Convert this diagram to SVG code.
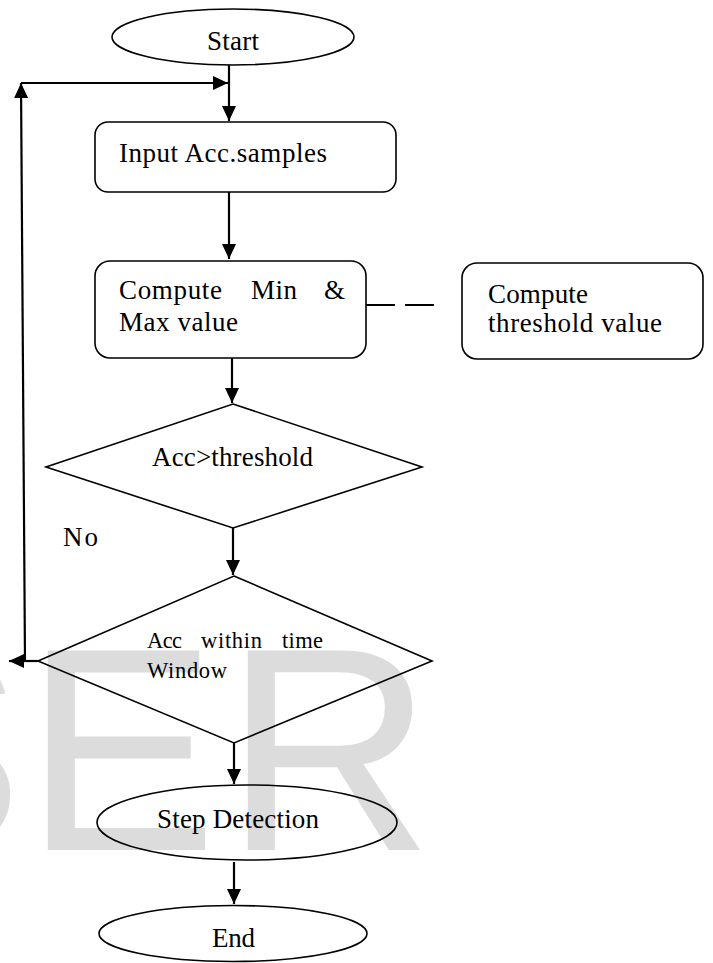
<svg xmlns="http://www.w3.org/2000/svg" width="713" height="963" viewBox="0 0 713 963">
<style>
.shape{fill:none;stroke:#000;stroke-width:1.6}
.conn{fill:none;stroke:#000;stroke-width:2.2}
.t{font-family:"Liberation Serif","Times New Roman",serif;font-size:27px;fill:#000}
.ts{font-size:22.5px}
.wm{font-family:"Liberation Sans",Arial,sans-serif;font-size:290px;fill:#dcdcdc}
</style>
<defs>
<marker id="ah" viewBox="0 0 15 14" refX="15" refY="7" markerWidth="15" markerHeight="14" markerUnits="userSpaceOnUse" orient="auto">
<path d="M0,0 L15,7 L0,14 z" fill="#000"/>
</marker>
</defs>
<rect x="0" y="0" width="713" height="963" fill="#fff"/>
<text class="wm" x="-170 24 224" y="850">SER</text>
<g id="connectors">
<path class="conn" d="M229,65 L229,121" marker-end="url(#ah)"/>
<path class="conn" d="M21,83 L228,83" marker-end="url(#ah)"/>
<path class="conn" d="M25,661 L21,83" marker-end="url(#ah)"/>
<path class="conn" d="M38,661 L9,661" marker-end="url(#ah)"/>
<path class="conn" d="M229,192 L229,259" marker-end="url(#ah)"/>
<path class="conn" d="M232,358 L232,403" marker-end="url(#ah)"/>
<path class="conn" d="M233,528 L233,575" marker-end="url(#ah)"/>
<path class="conn" d="M234,743 L234,784" marker-end="url(#ah)"/>
<path class="conn" d="M234,862 L234,904" marker-end="url(#ah)"/>
<path class="conn" d="M366,305 L435,305" stroke-dasharray="29 10" stroke-width="1.6"/>
</g>
<g id="start">
<ellipse class="shape" cx="233" cy="37" rx="121" ry="28"/>
<text class="t" x="207" y="50" textLength="52">Start</text>
</g>
<g id="input">
<rect class="shape" x="95" y="122" width="301" height="70" rx="13"/>
<text class="t" x="119" y="162" textLength="208">Input Acc.samples</text>
</g>
<g id="compute-minmax">
<rect class="shape" x="95" y="261" width="271" height="97" rx="15"/>
<text class="t" x="119" y="299" textLength="103">Compute</text>
<text class="t" x="251" y="299" textLength="46">Min</text>
<text class="t" x="324" y="299" textLength="19">&amp;</text>
<text class="t" x="119" y="331" textLength="119">Max value</text>
</g>
<g id="compute-threshold">
<rect class="shape" x="462" y="263" width="241" height="96" rx="15"/>
<text class="t" x="488" y="303" textLength="100">Compute</text>
<text class="t" x="488" y="332" textLength="174">threshold value</text>
</g>
<g id="decision-threshold">
<polygon class="shape" points="233,404 422,467 233,528 46,467"/>
<text class="t" x="152" y="466" textLength="161">Acc&gt;threshold</text>
</g>
<g id="label-no">
<text class="t" x="63" y="546" textLength="35">No</text>
</g>
<g id="decision-window">
<polygon class="shape" points="234,576 432,661 234,743 38,661"/>
<text class="t ts" x="147" y="648" textLength="35">Acc</text>
<text class="t ts" x="201" y="648" textLength="61">within</text>
<text class="t ts" x="282" y="648" textLength="41">time</text>
<text class="t ts" x="147" y="678" textLength="80">Window</text>
</g>
<g id="step-detection">
<ellipse class="shape" cx="247" cy="822.5" rx="150" ry="37.5"/>
<text class="t" x="157" y="828" textLength="162">Step Detection</text>
</g>
<g id="end">
<ellipse class="shape" cx="233" cy="933.5" rx="134" ry="28"/>
<text class="t" x="212" y="947" textLength="43">End</text>
</g>
</svg>
